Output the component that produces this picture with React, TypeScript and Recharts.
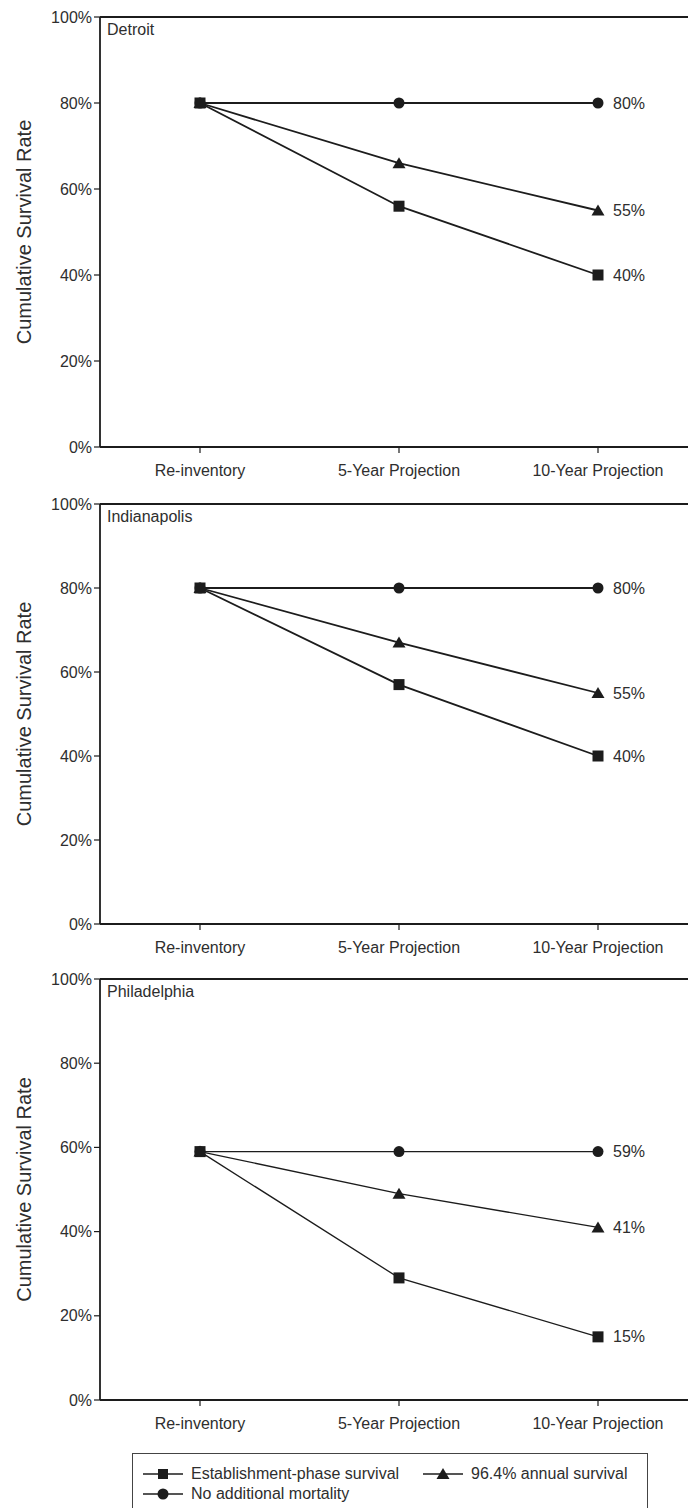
import React from 'react';
import {
    LabelList,
    Legend,
    Line,
    LineChart,
    ReferenceLine,
    XAxis,
    YAxis,
} from 'recharts';

const categories = ['Re-inventory', '5-Year Projection', '10-Year Projection'];
const yTicks = [0, 20, 40, 60, 80, 100];

const seriesNames = [
    'Establishment-phase survival',
    '96.4% annual survival',
    'No additional mortality',
];

const detroitEstablishment = [80, 56, 40];
const detroitAnnual = [80, 66, 55];
const detroitNoMortality = [80, 80, 80];

const indianapolisEstablishment = [80, 57, 40];
const indianapolisAnnual = [80, 67, 55];
const indianapolisNoMortality = [80, 80, 80];

const philadelphiaEstablishment = [59, 29, 15];
const philadelphiaAnnual = [59, 49, 41];
const philadelphiaNoMortality = [59, 59, 59];

const INK = '#1c1c1c';
const TEXT = '#2e2e2e';
const FONT = '"Liberation Sans", Arial, Helvetica, sans-serif';

const buildData = (est: number[], ann: number[], none: number[]) =>
    categories.map((name, i) => ({
        name,
        establishment: est[i],
        annual: ann[i],
        none: none[i],
    }));

const squareDot = (props: any) => {
    const { cx, cy, index } = props;
    if (cx == null || cy == null) return <g key={`s-${index}`} />;
    return <rect key={`s-${index}`} x={cx - 5.5} y={cy - 5.5} width={11} height={11} fill={INK} />;
};

const triangleDot = (props: any) => {
    const { cx, cy, index } = props;
    if (cx == null || cy == null) return <g key={`t-${index}`} />;
    return (
        <polygon
            key={`t-${index}`}
            points={`${cx},${cy - 6} ${cx - 6.5},${cy + 5} ${cx + 6.5},${cy + 5}`}
            fill={INK}
        />
    );
};

const circleDot = (props: any) => {
    const { cx, cy, index } = props;
    if (cx == null || cy == null) return <g key={`c-${index}`} />;
    return <circle key={`c-${index}`} cx={cx} cy={cy} r={5.5} fill={INK} />;
};

const endLabel = (props: any) => {
    const { x, y, value, index } = props;
    if (index !== categories.length - 1) return null;
    return (
        <text x={x + 15} y={y} dy="0.35em" fontSize={16} fill={TEXT}>
            {`${value}%`}
        </text>
    );
};

const yLabel = (props: any) => {
    const vb = props.viewBox || {};
    const cy = (vb.y || 0) + (vb.height || 0) / 2;
    return (
        <text
            x={24}
            y={cy}
            transform={`rotate(-90, 24, ${cy})`}
            textAnchor="middle"
            dominantBaseline="central"
            fontSize={20}
            fill={TEXT}
        >
            Cumulative Survival Rate
        </text>
    );
};

const LegendIcon = ({ kind }: { kind: string }) => (
    <svg width={40} height={14} style={{ flex: 'none' }}>
        <line x1={0} y1={7} x2={40} y2={7} stroke={INK} strokeWidth={1.4} />
        {kind === 'square' && <rect x={15} y={2} width={10} height={10} fill={INK} />}
        {kind === 'triangle' && <polygon points="20,1 13.5,12 26.5,12" fill={INK} />}
        {kind === 'circle' && <circle cx={20} cy={7} r={5.5} fill={INK} />}
    </svg>
);

const renderLegend = () => {
    const items = [
        { name: seriesNames[0], kind: 'square', left: 10, top: 10 },
        { name: seriesNames[1], kind: 'triangle', left: 290, top: 10 },
        { name: seriesNames[2], kind: 'circle', left: 10, top: 30 },
    ];
    return (
        <div style={{ position: 'relative', height: 70 }}>
            <div
                style={{
                    position: 'absolute',
                    left: 132,
                    top: 13,
                    width: 516,
                    height: 60,
                    border: '1px solid #444',
                    boxSizing: 'border-box',
                }}
            >
                {items.map((it) => (
                    <div
                        key={it.name}
                        style={{
                            position: 'absolute',
                            left: it.left,
                            top: it.top,
                            height: 20,
                            display: 'flex',
                            alignItems: 'center',
                            gap: 8,
                            fontSize: 16,
                            color: TEXT,
                            whiteSpace: 'nowrap',
                            fontFamily: FONT,
                        }}
                    >
                        <LegendIcon kind={it.kind} />
                        <span>{it.name}</span>
                    </div>
                ))}
            </div>
        </div>
    );
};

interface PanelProps {
    city: string;
    data: ReturnType<typeof buildData>;
    top: number;
    height: number;
    strokeWidth: number;
    withLegend?: boolean;
}

const CityPanel: React.FC<PanelProps> = ({ city, data, top, height, strokeWidth, withLegend }) => (
    <div style={{ position: 'absolute', left: 0, top }}>
        <LineChart
            width={688}
            height={height}
            data={data}
            margin={{ top: 17, right: 0, bottom: 0, left: 0 }}
        >
            <XAxis
                dataKey="name"
                type="category"
                padding={{ left: 100, right: 90 }}
                height={40}
                tickSize={6}
                tickMargin={12}
                tick={{ fontSize: 16, fill: TEXT }}
                axisLine={{ stroke: INK, strokeWidth: 1.8 }}
                tickLine={{ stroke: INK, strokeWidth: 1.2 }}
                interval={0}
            />
            <YAxis
                width={100}
                domain={[0, 100]}
                ticks={yTicks}
                interval={0}
                tickFormatter={(v: number) => `${v}%`}
                tickSize={6}
                tickMargin={2}
                tick={{ fontSize: 16, fill: TEXT }}
                axisLine={{ stroke: INK, strokeWidth: 1.8 }}
                tickLine={{ stroke: INK, strokeWidth: 1.2 }}
                label={yLabel}
            />
            <ReferenceLine
                y={100}
                stroke={INK}
                strokeWidth={1.8}
                label={{ value: city, position: 'insideTopLeft', fontSize: 16, fill: TEXT, offset: 7 }}
            />
            <Line
                dataKey="none"
                name={seriesNames[2]}
                stroke={INK}
                strokeWidth={strokeWidth}
                dot={circleDot}
                activeDot={false}
                isAnimationActive={false}
            >
                <LabelList dataKey="none" content={endLabel} />
            </Line>
            <Line
                dataKey="annual"
                name={seriesNames[1]}
                stroke={INK}
                strokeWidth={strokeWidth}
                dot={triangleDot}
                activeDot={false}
                isAnimationActive={false}
            >
                <LabelList dataKey="annual" content={endLabel} />
            </Line>
            <Line
                dataKey="establishment"
                name={seriesNames[0]}
                stroke={INK}
                strokeWidth={strokeWidth}
                dot={squareDot}
                activeDot={false}
                isAnimationActive={false}
            >
                <LabelList dataKey="establishment" content={endLabel} />
            </Line>
            {withLegend && (
                <Legend
                    verticalAlign="bottom"
                    content={renderLegend}
                    wrapperStyle={{ left: 0, width: 688 }}
                />
            )}
        </LineChart>
    </div>
);

export default function App() {
    return (
        <div
            style={{
                position: 'absolute',
                left: 0,
                top: 0,
                width: 688,
                height: 1508,
                overflow: 'hidden',
                background: '#fff',
                fontFamily: FONT,
            }}
        >
            <CityPanel
                city="Detroit"
                data={buildData(detroitEstablishment, detroitAnnual, detroitNoMortality)}
                top={0}
                height={487}
                strokeWidth={1.8}
            />
            <CityPanel
                city="Indianapolis"
                data={buildData(indianapolisEstablishment, indianapolisAnnual, indianapolisNoMortality)}
                top={487}
                height={477}
                strokeWidth={1.8}
            />
            <CityPanel
                city="Philadelphia"
                data={buildData(philadelphiaEstablishment, philadelphiaAnnual, philadelphiaNoMortality)}
                top={962}
                height={548}
                strokeWidth={1.3}
                withLegend
            />
        </div>
    );
}
